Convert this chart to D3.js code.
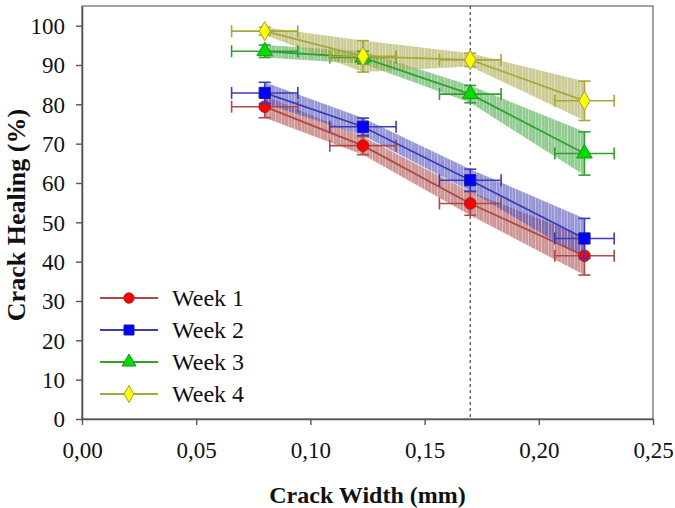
<!DOCTYPE html>
<html>
<head>
<meta charset="utf-8">
<script src="https://cdn.jsdelivr.net/npm/d3@7"></script>
<style>
  html, body { margin: 0; padding: 0; background: #fff; }
  svg { display: block; }
  svg text { font-family: "Liberation Serif", Tinos, "Times New Roman", "DejaVu Serif", serif; }
</style>
</head>
<body>
<svg id="chart" width="675" height="508"></svg>
<script>
// Crack widths (mm) and their spread
const crackWidths = [0.08, 0.123, 0.17, 0.22];
const crackWidthErr = [0.0145, 0.0145, 0.0135, 0.013];

// Healing ratio (%) per week, with spread
const week1 = [79.4, 69.5, 54.8, 41.5];
const week1Err = [2.8, 2.3, 3.0, 4.9];
const week2 = [82.9, 74.3, 60.7, 45.9];
const week2Err = [2.7, 2.2, 2.8, 5.1];
const week3 = [93.5, 91.9, 82.6, 67.5];
const week3Err = [1.6, 1.6, 2.2, 5.5];
const week4 = [98.6, 92.2, 91.3, 80.9];
const week4Err = [1.0, 4.0, 1.7, 5.0];

const seriesNames = ["Week 1", "Week 2", "Week 3", "Week 4"];
const xTicks = [0, 0.05, 0.10, 0.15, 0.20, 0.25];
const yTicks = [0, 10, 20, 30, 40, 50, 60, 70, 80, 90, 100];
const referenceWidth = 0.17;

const styles = [
  { line: "#b04848", band: "#ac4a4a", fill: "#ff0000", stroke: "#a02020", symbol: d3.symbolCircle, size: 105 },
  { line: "#3c3cb4", band: "#4c4cbc", fill: "#0000ff", stroke: "#1c1c90", symbol: d3.symbolSquare, size: 125 },
  { line: "#30a030", band: "#44a844", fill: "#00dd00", stroke: "#209020", symbol: d3.symbolTriangle, size: 105 },
  { line: "#a8a838", band: "#a8a84c", fill: "#ffff00", stroke: "#a0a030", symbol: d3.symbolDiamond, size: 105 }
];

const values = [week1, week2, week3, week4];
const errors = [week1Err, week2Err, week3Err, week4Err];
const series = seriesNames.map((name, i) => ({
  name,
  style: styles[i],
  points: crackWidths.map((w, j) => ({ x: w, xe: crackWidthErr[j], y: values[i][j], ye: errors[i][j] }))
}));

const svg = d3.select("#chart");
const margin = { left: 82, right: 22, top: 6, bottom: 89 };
const W = 675, H = 508;

const x = d3.scaleLinear().domain([0, 0.25]).range([margin.left, W - margin.right]);
const y = d3.scaleLinear().domain([0, 105]).range([H - margin.bottom, margin.top]);

const fmt = d3.format(".2f");
const comma = v => fmt(v).replace(".", ",");
const serif = '"Liberation Serif", Tinos, "Times New Roman", "DejaVu Serif", serif';

// streaky vertical texture used inside the confidence bands
const defs = svg.append("defs");
series.forEach((s, i) => {
  const p = defs.append("pattern")
    .attr("id", "band" + i)
    .attr("patternUnits", "userSpaceOnUse")
    .attr("width", 13).attr("height", 10);
  p.append("rect").attr("width", 13).attr("height", 10).attr("fill", s.style.band).attr("opacity", 0.58);
  [[2, 0.35], [5, 0.2], [8, 0.4], [11, 0.15]].forEach(([px, op]) => {
    p.append("rect").attr("x", px).attr("width", 1).attr("height", 10)
      .attr("fill", "#fff").attr("opacity", op);
  });
});

// frame
svg.append("rect")
  .attr("x", x(0)).attr("y", y(105))
  .attr("width", x(0.25) - x(0)).attr("height", y(0) - y(105))
  .attr("fill", "none").attr("stroke", "#8a8a8a").attr("stroke-width", 1.6);

// bands
const area = d3.area().x(d => x(d.x)).y0(d => y(d.y - d.ye)).y1(d => y(d.y + d.ye));
series.forEach((s, i) => {
  svg.append("path").datum(s.points).attr("d", area).attr("fill", `url(#band${i})`);
});

// reference width marker
svg.append("line")
  .attr("x1", x(referenceWidth)).attr("x2", x(referenceWidth))
  .attr("y1", y(105)).attr("y2", y(0))
  .attr("stroke", "#555").attr("stroke-width", 1.3).attr("stroke-dasharray", "3,3");

const line = d3.line().x(d => x(d.x)).y(d => y(d.y));
const cap = 6;
series.forEach(s => {
  const g = svg.append("g");
  g.append("path").datum(s.points).attr("d", line)
    .attr("fill", "none").attr("stroke", s.style.line).attr("stroke-width", 1.8);
  s.points.forEach(d => {
    const e = g.append("g").attr("stroke", s.style.line).attr("stroke-width", 1.6).attr("fill", "none");
    // horizontal bar
    e.append("line").attr("x1", x(d.x - d.xe)).attr("x2", x(d.x + d.xe)).attr("y1", y(d.y)).attr("y2", y(d.y));
    e.append("line").attr("x1", x(d.x - d.xe)).attr("x2", x(d.x - d.xe)).attr("y1", y(d.y) - cap).attr("y2", y(d.y) + cap);
    e.append("line").attr("x1", x(d.x + d.xe)).attr("x2", x(d.x + d.xe)).attr("y1", y(d.y) - cap).attr("y2", y(d.y) + cap);
    // vertical bar
    e.append("line").attr("x1", x(d.x)).attr("x2", x(d.x)).attr("y1", y(d.y - d.ye)).attr("y2", y(d.y + d.ye));
    e.append("line").attr("x1", x(d.x) - cap).attr("x2", x(d.x) + cap).attr("y1", y(d.y - d.ye)).attr("y2", y(d.y - d.ye));
    e.append("line").attr("x1", x(d.x) - cap).attr("x2", x(d.x) + cap).attr("y1", y(d.y + d.ye)).attr("y2", y(d.y + d.ye));
  });
  g.selectAll("path.mark").data(s.points).join("path")
    .attr("class", "mark")
    .attr("transform", d => `translate(${x(d.x)},${y(d.y)})`)
    .attr("d", d3.symbol().type(s.style.symbol).size(s.style.size))
    .attr("fill", s.style.fill).attr("stroke", s.style.stroke).attr("stroke-width", 1);
});

// axes
const xAxis = svg.append("g").attr("transform", `translate(0,${y(0)})`)
  .call(d3.axisBottom(x).tickValues(xTicks).tickFormat(comma).tickSize(6).tickSizeOuter(0));
const yAxis = svg.append("g").attr("transform", `translate(${x(0)},0)`)
  .call(d3.axisLeft(y).tickValues(yTicks).tickSize(6).tickSizeOuter(0));
[xAxis, yAxis].forEach(a => {
  a.attr("font-family", null);
  a.select(".domain").attr("stroke", "#555").attr("stroke-width", 1.6);
  a.selectAll(".tick line").attr("stroke", "#555").attr("stroke-width", 1.4);
  a.selectAll("text").style("font-family", serif).attr("font-size", 23).attr("fill", "#111");
});
xAxis.selectAll("text").attr("dy", "1.3em");
yAxis.selectAll("text").attr("x", -17).attr("dy", "0.34em");

svg.append("text")
  .attr("x", (x(0) + x(0.25)) / 2).attr("y", 503)
  .attr("text-anchor", "middle")
  .style("font-family", serif).attr("font-weight", "bold").attr("font-size", 24).attr("fill", "#111")
  .text("Crack Width (mm)");
svg.append("text")
  .attr("transform", `translate(25,215) rotate(-90)`)
  .attr("text-anchor", "middle")
  .style("font-family", serif).attr("font-weight", "bold").attr("font-size", 26).attr("fill", "#111")
  .text("Crack Healing (%)");

// legend
const legend = svg.append("g");
series.forEach((s, i) => {
  const ly = 298 + i * 32;
  legend.append("line").attr("x1", 100).attr("x2", 158).attr("y1", ly).attr("y2", ly)
    .attr("stroke", s.style.line).attr("stroke-width", 1.8);
  legend.append("path")
    .attr("transform", `translate(129,${ly})`)
    .attr("d", d3.symbol().type(s.style.symbol).size(s.style.size * 0.8))
    .attr("fill", s.style.fill).attr("stroke", s.style.stroke).attr("stroke-width", 1);
  legend.append("text").attr("x", 172).attr("y", ly).attr("dy", "0.35em")
    .style("font-family", serif).attr("font-size", 24).attr("fill", "#111")
    .text(s.name);
});
</script>
</body>
</html>
